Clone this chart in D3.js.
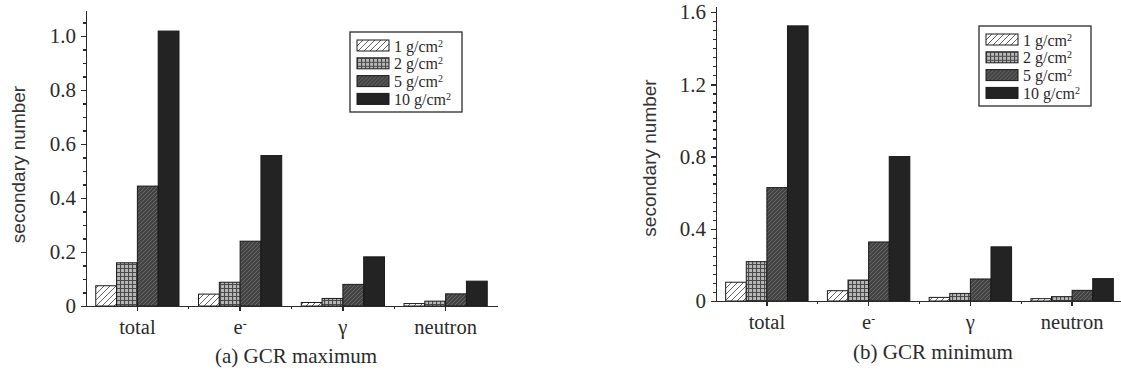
<!DOCTYPE html>
<meta charset="utf-8">
<head>
<style>
  body { margin: 0; background: #fff; }
  .axis path, .axis line { stroke: #2b2b2b; stroke-width: 1.3; fill: none; shape-rendering: crispEdges; }
  .bar { stroke: #1a1a1a; stroke-width: 1; }
</style>
</head>
<body>
<script src="https://cdn.jsdelivr.net/npm/d3@7"></script>
<script>
// categories and shielding thickness (g/cm2)
var categories = ["total", "e-", "γ", "neutron"];
var thickness = [1, 2, 5, 10];

// (a) GCR maximum, one array per thickness, ordered like categories
var maxT1 = [0.075, 0.044, 0.013, 0.009];
var maxT2 = [0.160, 0.088, 0.028, 0.018];
var maxT5 = [0.444, 0.240, 0.080, 0.045];
var maxT10 = [1.018, 0.557, 0.182, 0.092];

// (b) GCR minimum
var minT1 = [0.104, 0.057, 0.020, 0.013];
var minT2 = [0.218, 0.116, 0.042, 0.024];
var minT5 = [0.628, 0.327, 0.122, 0.059];
var minT10 = [1.524, 0.800, 0.300, 0.124];

var maxTicks = [0, 0.2, 0.4, 0.6, 0.8, 1.0];
var minTicks = [0, 0.4, 0.8, 1.2, 1.6];

var SERIF = "'Liberation Serif', 'Times New Roman', serif";
var SANS = "'Liberation Sans', Arial, sans-serif";
var INK = "#2b2b2b";

var svg = d3.select("body").append("svg")
    .attr("width", 1121)
    .attr("height", 374);

// fill patterns for the four thicknesses
var defs = svg.append("defs");
var p1 = defs.append("pattern").attr("id", "pat1").attr("patternUnits", "userSpaceOnUse")
    .attr("width", 6).attr("height", 6);
p1.append("rect").attr("width", 6).attr("height", 6).attr("fill", "#fff");
p1.append("path").attr("d", "M0,6L6,0M-1,1L1,-1M5,7L7,5")
    .attr("stroke", "#555").attr("stroke-width", 0.9);

var p2 = defs.append("pattern").attr("id", "pat2").attr("patternUnits", "userSpaceOnUse")
    .attr("width", 4).attr("height", 4);
p2.append("rect").attr("width", 4).attr("height", 4).attr("fill", "#b8b8b8");
p2.append("path").attr("d", "M0,0.5H4M0.5,0V4")
    .attr("stroke", "#4a4a4a").attr("stroke-width", 1.2);

var p3 = defs.append("pattern").attr("id", "pat3").attr("patternUnits", "userSpaceOnUse")
    .attr("width", 4).attr("height", 4);
p3.append("rect").attr("width", 4).attr("height", 4).attr("fill", "#444");
p3.append("path").attr("d", "M0,4L4,0")
    .attr("stroke", "#6e6e6e").attr("stroke-width", 0.8);

var fills = ["url(#pat1)", "url(#pat2)", "url(#pat3)", "#232323"];

function drawPanel(o) {
    var g = svg.append("g");

    var y = d3.scaleLinear().domain([0, o.ymax]).range([o.y0, o.yTop]);
    var x = d3.scaleBand().domain(categories).range([o.x0, o.x1]);
    var xs = d3.scaleBand().domain(thickness)
        .range([x.bandwidth() * 0.095, x.bandwidth() * 0.905]);

    // bars
    thickness.forEach(function (t, k) {
        g.selectAll(".b" + k)
            .data(o.series[k])
            .enter().append("rect")
            .attr("class", "bar")
            .attr("x", function (d, i) { return x(categories[i]) + xs(t); })
            .attr("y", function (d) { return y(d); })
            .attr("width", xs.bandwidth())
            .attr("height", function (d) { return o.y0 - y(d); })
            .attr("fill", fills[k]);
    });

    // minor y ticks
    var minor = d3.range(0, o.ymax, 0.05);
    g.append("g").attr("class", "axis")
        .attr("transform", "translate(" + o.x0 + ",0)")
        .call(d3.axisLeft(y).tickValues(minor).tickFormat("").tickSize(3).tickSizeOuter(0));

    var ya = g.append("g").attr("class", "axis")
        .attr("transform", "translate(" + o.x0 + ",0)")
        .call(d3.axisLeft(y).tickValues(o.ticks).tickSize(5).tickPadding(5).tickSizeOuter(0)
            .tickFormat(function (d) { return d === 0 ? "0" : d3.format(".1f")(d); }));
    ya.attr("font-family", SERIF).attr("font-size", 21);
    ya.selectAll("text").attr("fill", INK);

    // x axis
    var xa = g.append("g").attr("class", "axis")
        .attr("transform", "translate(0," + o.y0 + ")")
        .call(d3.axisBottom(x).tickSize(5).tickPadding(8).tickSizeOuter(0));
    xa.attr("font-family", SERIF).attr("font-size", 20.5);
    xa.selectAll("text").attr("fill", INK);
    xa.selectAll(".tick text").each(function (d) {
        if (d === "e-") {
            var t = d3.select(this).text("e");
            t.append("tspan").attr("dy", "-0.45em").attr("font-size", "12px").text("-");
        }
    });
    xa.selectAll(".minor")
        .data(categories.slice(1))
        .enter().append("line")
        .attr("class", "minor")
        .attr("x1", function (d) { return x(d); })
        .attr("x2", function (d) { return x(d); })
        .attr("y1", 0).attr("y2", 3);

    // y title
    g.append("text")
        .attr("transform", "translate(" + o.titleX + "," + o.titleY + ") rotate(-90)")
        .attr("text-anchor", "middle")
        .attr("font-family", SANS).attr("font-size", 19).attr("fill", "#333")
        .text("secondary number");

    // caption
    g.append("text")
        .attr("x", o.capX).attr("y", o.capY)
        .attr("text-anchor", "middle")
        .attr("font-family", SERIF).attr("font-size", 21).attr("fill", INK)
        .text(o.caption);

    // legend
    var lg = g.append("g")
        .attr("transform", "translate(" + o.legX + "," + o.legY + ")")
        .attr("font-family", SERIF).attr("font-size", 16);
    lg.append("rect").attr("width", 112).attr("height", 80)
        .attr("fill", "#fff").attr("stroke", INK).attr("stroke-width", 1.3);
    var rows = lg.selectAll(".row").data(thickness).enter().append("g")
        .attr("transform", function (d, i) { return "translate(7," + (8 + i * 17.8) + ")"; });
    rows.append("rect").attr("class", "bar")
        .attr("width", 32).attr("height", 11)
        .attr("fill", function (d, i) { return fills[i]; });
    var lt = rows.append("text").attr("x", 37).attr("y", 11.5).attr("fill", INK)
        .text(function (d) { return d + " g/cm"; });
    lt.append("tspan").attr("dy", "-0.5em").attr("font-size", "10px").text("2");
}

drawPanel({
    series: [maxT1, maxT2, maxT5, maxT10], ticks: maxTicks, ymax: 1.096,
    x0: 86, x1: 497, y0: 306, yTop: 10,
    titleX: 25, titleY: 164.5, capX: 296, capY: 363,
    legX: 350, legY: 32, caption: "(a) GCR maximum"
});

drawPanel({
    series: [minT1, minT2, minT5, minT10], ticks: minTicks, ymax: 1.634,
    x0: 716, x1: 1123, y0: 301, yTop: 6,
    titleX: 656, titleY: 158, capX: 933, capY: 359,
    legX: 979, legY: 26, caption: "(b) GCR minimum"
});
</script>
</body>
